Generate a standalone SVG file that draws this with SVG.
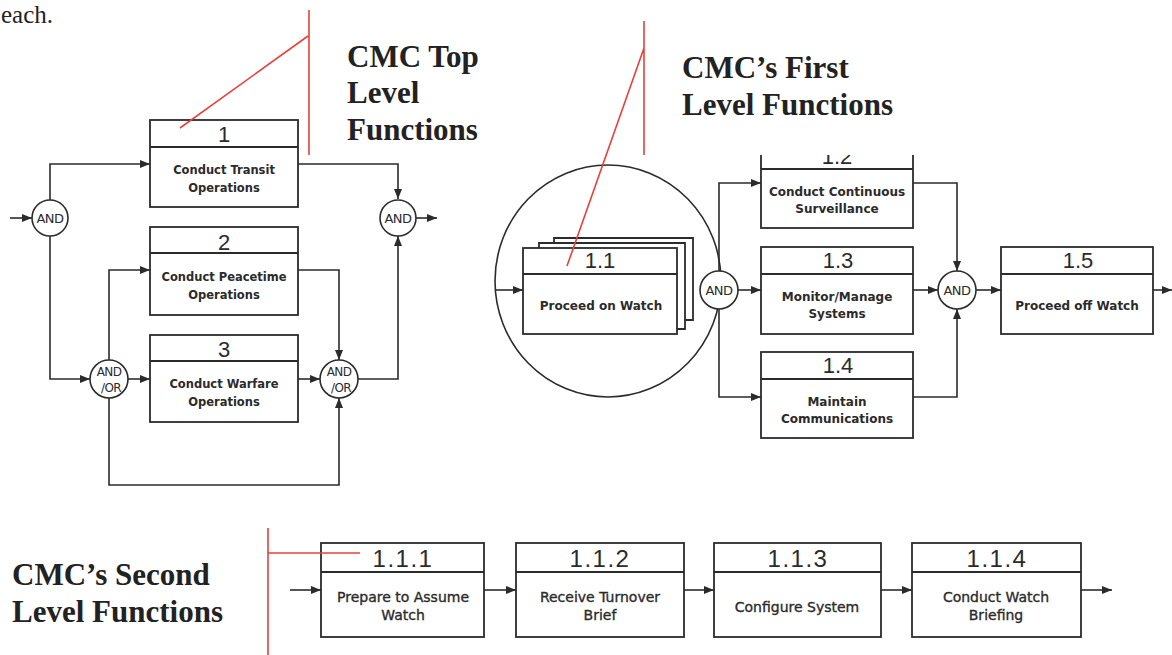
<svg xmlns="http://www.w3.org/2000/svg" width="1172" height="655" viewBox="0 0 1172 655">
<defs>
<style>
.bx{fill:#fff;stroke:#2b2b2b;stroke-width:1.8}
.dv{stroke:#2b2b2b;stroke-width:1.8}
.ln{fill:none;stroke:#2b2b2b;stroke-width:1.6}
.gate{fill:#fff;stroke:#2b2b2b;stroke-width:1.6}
.num{font-family:"Liberation Sans",Arial,sans-serif;font-size:22px;fill:#2b2b2b;text-anchor:middle}
.num2{font-family:"Liberation Sans",Arial,sans-serif;font-size:24px;fill:#2b2b2b;text-anchor:middle;letter-spacing:1.5px}
.lb{font-family:"DejaVu Sans",sans-serif;font-weight:bold;font-size:11.5px;fill:#2b2b2b;text-anchor:middle}
.lb2{font-family:"DejaVu Sans",sans-serif;font-weight:bold;font-size:12px;fill:#2b2b2b;text-anchor:middle}
.lb3{font-family:"DejaVu Sans",sans-serif;font-size:14px;fill:#2b2b2b;stroke:#2b2b2b;stroke-width:0.35;text-anchor:middle}
.gt{font-family:"DejaVu Sans",sans-serif;font-size:13px;letter-spacing:-0.6px;fill:#2b2b2b;text-anchor:middle}
.gt2{font-family:"DejaVu Sans",sans-serif;font-size:12px;letter-spacing:-0.6px;fill:#2b2b2b;text-anchor:middle}
.red{fill:none;stroke:#e8413a;stroke-width:1.6}
.ttl{font-family:"Liberation Serif","Times New Roman",serif;font-weight:bold;font-size:31px;fill:#222}
</style>
<marker id="ah" markerWidth="10" markerHeight="8" refX="10" refY="4" orient="auto" markerUnits="userSpaceOnUse">
<path d="M0,0 L10,4 L0,8 z" fill="#2b2b2b"/>
</marker>
<clipPath id="clip12"><rect x="740" y="155" width="200" height="100"/></clipPath>
</defs>
<rect width="1172" height="655" fill="#fff"/>

<text x="1" y="23" font-family="Liberation Serif,serif" font-size="25" fill="#222">each.</text>

<g id="titles">
<text class="ttl" x="347" y="67">CMC Top</text>
<text class="ttl" x="347" y="103">Level</text>
<text class="ttl" x="347" y="140">Functions</text>
<text class="ttl" x="682" y="78">CMC’s First</text>
<text class="ttl" x="682" y="115">Level Functions</text>
<text class="ttl" x="12" y="585">CMC’s Second</text>
<text class="ttl" x="12" y="622">Level Functions</text>
</g>

<ellipse id="focus-circle" cx="608" cy="281" rx="113" ry="116" class="ln"/>

<g id="connectors">
<path class="ln" d="M10,218 H32" marker-end="url(#ah)"/>
<path class="ln" d="M50,200 V164 H150" marker-end="url(#ah)"/>
<path class="ln" d="M298,164 H398 V199" marker-end="url(#ah)"/>
<path class="ln" d="M416,218 H437" marker-end="url(#ah)"/>
<path class="ln" d="M50,236 V379 H90" marker-end="url(#ah)"/>
<path class="ln" d="M109,360 V270 H150" marker-end="url(#ah)"/>
<path class="ln" d="M128,379 H150" marker-end="url(#ah)"/>
<path class="ln" d="M109,398 V485 H339 V398" marker-end="url(#ah)"/>
<path class="ln" d="M298,270 H339 V360" marker-end="url(#ah)"/>
<path class="ln" d="M298,379 H320" marker-end="url(#ah)"/>
<path class="ln" d="M358,379 H398 V236" marker-end="url(#ah)"/>
<path class="ln" d="M496,290 H523" marker-end="url(#ah)"/>
<path class="ln" d="M719,271 V183 H761" marker-end="url(#ah)"/>
<path class="ln" d="M719,309 V397 H761" marker-end="url(#ah)"/>
<path class="ln" d="M738,290 H761" marker-end="url(#ah)"/>
<path class="ln" d="M913,183 H957 V271" marker-end="url(#ah)"/>
<path class="ln" d="M913,290 H938" marker-end="url(#ah)"/>
<path class="ln" d="M913,397 H957 V309" marker-end="url(#ah)"/>
<path class="ln" d="M976,290 H1001" marker-end="url(#ah)"/>
<path class="ln" d="M1153,290 H1172" marker-end="url(#ah)"/>
<path class="ln" d="M290,590 H321" marker-end="url(#ah)"/>
<path class="ln" d="M484,590 H516" marker-end="url(#ah)"/>
<path class="ln" d="M684,590 H714" marker-end="url(#ah)"/>
<path class="ln" d="M881,590 H912" marker-end="url(#ah)"/>
<path class="ln" d="M1081,590 H1112" marker-end="url(#ah)"/>
</g>

<g id="f1">
<rect class="bx" x="150" y="120" width="148" height="87"/>
<line class="dv" x1="150" y1="147" x2="298" y2="147"/>
<text class="num" x="224" y="142">1</text>
<text class="lb" x="224" y="174">Conduct Transit</text>
<text class="lb" x="224" y="192">Operations</text>
</g>
<g id="f2">
<rect class="bx" x="150" y="227" width="148" height="88"/>
<line class="dv" x1="150" y1="253" x2="298" y2="253"/>
<text class="num" x="224" y="250">2</text>
<text class="lb" x="224" y="281">Conduct Peacetime</text>
<text class="lb" x="224" y="299">Operations</text>
</g>
<g id="f3">
<rect class="bx" x="150" y="335" width="148" height="87"/>
<line class="dv" x1="150" y1="361" x2="298" y2="361"/>
<text class="num" x="224" y="357">3</text>
<text class="lb" x="224" y="388">Conduct Warfare</text>
<text class="lb" x="224" y="406">Operations</text>
</g>
<g id="g-and-in">
<circle class="gate" cx="50" cy="218" r="18"/>
<text class="gt" x="50" y="223">AND</text>
</g>
<g id="g-and-out">
<circle class="gate" cx="398" cy="218" r="18"/>
<text class="gt" x="398" y="223">AND</text>
</g>
<g id="g-andor-in">
<circle class="gate" cx="109" cy="379" r="19"/>
<text class="gt2" x="109" y="376">AND</text>
<text class="gt2" x="111" y="392">/OR</text>
</g>
<g id="g-andor-out">
<circle class="gate" cx="339" cy="379" r="19"/>
<text class="gt2" x="339" y="376">AND</text>
<text class="gt2" x="341" y="392">/OR</text>
</g>

<g id="f1-1">
<path class="bx" d="M554,248 V238 H693 V320 H685"/>
<path class="bx" d="M539,248 V243 H685 V329 H677"/>
<rect class="bx" x="523" y="248" width="154" height="86"/>
<line class="dv" x1="523" y1="274" x2="677" y2="274"/>
<text class="num" x="600" y="268">1.1</text>
<text class="lb2" x="601" y="310">Proceed on Watch</text>
</g>
<g id="f1-2" clip-path="url(#clip12)">
<rect class="bx" x="761" y="143" width="152" height="85"/>
<line class="dv" x1="761" y1="169" x2="913" y2="169"/>
<text class="num" x="837" y="164">1.2</text>
<text class="lb2" x="837" y="196">Conduct Continuous</text>
<text class="lb2" x="837" y="213">Surveillance</text>
</g>
<g id="f1-3">
<rect class="bx" x="761" y="247" width="152" height="87"/>
<line class="dv" x1="761" y1="274" x2="913" y2="274"/>
<text class="num" x="838" y="268">1.3</text>
<text class="lb2" x="837" y="301">Monitor/Manage</text>
<text class="lb2" x="837" y="318">Systems</text>
</g>
<g id="f1-4">
<rect class="bx" x="761" y="352" width="152" height="86"/>
<line class="dv" x1="761" y1="379" x2="913" y2="379"/>
<text class="num" x="838" y="373">1.4</text>
<text class="lb2" x="837" y="406">Maintain</text>
<text class="lb2" x="837" y="423">Communications</text>
</g>
<g id="f1-5">
<rect class="bx" x="1001" y="247" width="152" height="87"/>
<line class="dv" x1="1001" y1="274" x2="1153" y2="274"/>
<text class="num" x="1078" y="268">1.5</text>
<text class="lb2" x="1077" y="310">Proceed off Watch</text>
</g>
<g id="g1-and-in">
<circle class="gate" cx="719" cy="290" r="19"/>
<text class="gt" x="719" y="295">AND</text>
</g>
<g id="g1-and-out">
<circle class="gate" cx="957" cy="290" r="19"/>
<text class="gt" x="957" y="295">AND</text>
</g>

<g id="f1-1-1">
<rect class="bx" x="321" y="543" width="163" height="94"/>
<line class="dv" x1="321" y1="572" x2="484" y2="572"/>
<text class="num2" x="403" y="567">1.1.1</text>
<text class="lb3" x="403" y="602">Prepare to Assume</text>
<text class="lb3" x="403" y="620">Watch</text>
</g>
<g id="f1-1-2">
<rect class="bx" x="516" y="543" width="168" height="94"/>
<line class="dv" x1="516" y1="572" x2="684" y2="572"/>
<text class="num2" x="600" y="567">1.1.2</text>
<text class="lb3" x="600" y="602">Receive Turnover</text>
<text class="lb3" x="600" y="620">Brief</text>
</g>
<g id="f1-1-3">
<rect class="bx" x="714" y="543" width="167" height="94"/>
<line class="dv" x1="714" y1="572" x2="881" y2="572"/>
<text class="num2" x="798" y="567">1.1.3</text>
<text class="lb3" x="797" y="612">Configure System</text>
</g>
<g id="f1-1-4">
<rect class="bx" x="912" y="543" width="169" height="94"/>
<line class="dv" x1="912" y1="572" x2="1081" y2="572"/>
<text class="num2" x="997" y="567">1.1.4</text>
<text class="lb3" x="996" y="602">Conduct Watch</text>
<text class="lb3" x="996" y="620">Briefing</text>
</g>

<g id="callouts">
<path class="red" d="M309,10 V155 M308,36 L180,128"/>
<path class="red" d="M644,21 V155 M644,48 L567,266"/>
<path class="red" d="M268,528 V655 M268,553 H360"/>
</g>
</svg>
